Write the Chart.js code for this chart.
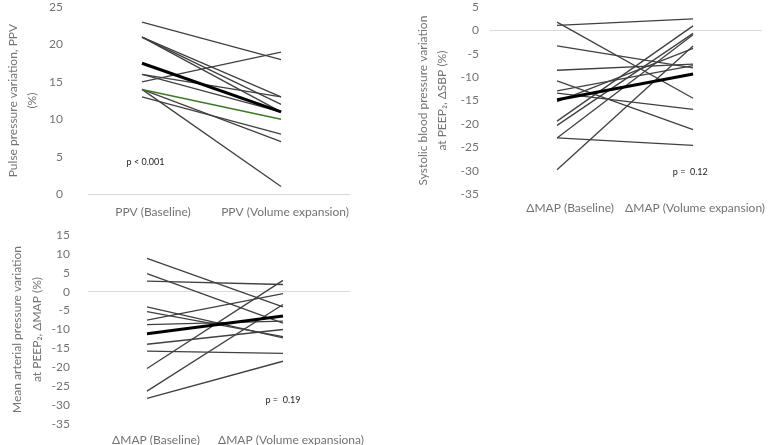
<!DOCTYPE html>
<html>
<head>
<meta charset="utf-8">
<script src="https://cdn.jsdelivr.net/npm/chart.js@4.4.0/dist/chart.umd.min.js"></script>
<style>
    body { margin: 0; background: #fff; width: 771px; height: 445px; position: relative; overflow: hidden; }
    canvas { position: absolute; }
</style>
</head>
<body>
<canvas id="ppvChart" width="385" height="225" style="left:0;top:0"></canvas>
<canvas id="sbpChart" width="376" height="225" style="left:395px;top:0"></canvas>
<canvas id="mapChart" width="385" height="220" style="left:0;top:225px"></canvas>
<script>
// PPV panel
const ppvCategories = ["PPV (Baseline)", "PPV (Volume expansion)"];
const ppvBaseline = [23, 21, 21, 21, 16, 16, 15, 14, 14, 13];
const ppvExpansion = [18, 13, 12, 11, 13, 11, 19, 1, 7, 8];
const ppvMean = [17.5, 11];
const ppvGreen = [14, 10];
const ppvTicks = [0, 25];

// SBP panel
const sbpCategories = ["ΔMAP (Baseline)", "ΔMAP (Volume expansion)"];
const sbpBaseline = [1.8, 1.1, -3.3, -8.5, -10.8, -12.9, -13.4, -15.2, -19.4, -20.3, -23, -23, -29.8];
const sbpExpansion = [-14.5, 2.5, -8.0, -7.2, -21.2, -7.5, -16.9, -3.8, 1.0, -0.6, -24.6, -0.9, -3.3];
const sbpMean = [-14.8, -9.3];
const sbpTicks = [-35, 5];

// MAP panel
const mapCategories = ["ΔMAP (Baseline)", "ΔMAP (Volume expansiona)"];
const mapBaseline = [8.8, 4.8, 2.8, -4.0, -5.3, -7.5, -8.7, -13.9, -15.7, -20.3, -26.3, -28.2];
const mapExpansion = [-4.0, -8.3, 1.9, -12.2, -11.9, -0.5, -7.8, -10.0, -16.3, 3.0, -3.4, -18.4];
const mapMean = [-11.1, -6.4];
const mapTicks = [-35, 15];

const FONT = 'Lato, "Open Sans", sans-serif';
const textGray = "#737373";

const pValuePlugin = {
    id: "pValue",
    afterDatasetsDraw(chart, args, opts) {
        if (!opts.text) return;
        const ctx = chart.ctx;
        const x = chart.scales.x.getPixelForValue(opts.x);
        const y = chart.scales.y.getPixelForValue(opts.y);
        ctx.save();
        ctx.font = "9px " + FONT;
        ctx.fillStyle = "#222";
        ctx.textAlign = "center";
        ctx.textBaseline = "middle";
        ctx.fillText(opts.text, x, y);
        ctx.restore();
    },
};

function pair(a, b) {
    return [{ x: 0, y: a }, { x: 1, y: b }];
}

function buildDatasets(baseline, expansion, mean, green) {
    const sets = [{ data: pair(mean[0], mean[1]), borderColor: "#000", borderWidth: 3 }];
    if (green) {
        sets.push({ data: pair(green[0], green[1]), borderColor: "#3d7a28", borderWidth: 1.5 });
    }
    baseline.forEach((v, i) => {
        sets.push({ data: pair(v, expansion[i]), borderColor: "#404040", borderWidth: 1.3 });
    });
    return sets;
}

function makeChart(canvasId, s) {
    return new Chart(document.getElementById(canvasId), {
        type: "line",
        data: { datasets: s.datasets },
        plugins: [pValuePlugin],
        options: {
            responsive: false,
            animation: false,
            devicePixelRatio: 1,
            layout: { autoPadding: false, padding: s.padding },
            elements: { point: { radius: 0 }, line: { tension: 0 } },
            plugins: {
                legend: { display: false },
                tooltip: { enabled: false },
                pValue: s.pValue,
            },
            scales: {
                x: {
                    type: "linear",
                    min: s.xMin,
                    max: s.xMax,
                    border: { display: false },
                    grid: { display: false },
                    afterBuildTicks: (scale) => {
                        scale.ticks = s.labelPos.map((v) => ({ value: v }));
                    },
                    afterFit: (scale) => {
                        scale.height = s.xHeight;
                    },
                    ticks: {
                        autoSkip: false,
                        maxRotation: 0,
                        padding: s.xPad,
                        color: textGray,
                        font: { family: FONT, size: 12 },
                        callback: (value, index) => s.categories[index],
                    },
                },
                y: {
                    min: s.yTicks[0],
                    max: s.yTicks[1],
                    border: { display: false },
                    grid: {
                        drawTicks: true,
                        tickLength: s.yGap,
                        tickColor: "rgba(0,0,0,0)",
                        color: (c) => (c.tick && c.tick.value === 0 ? "#d9d9d9" : "rgba(0,0,0,0)"),
                    },
                    afterFit: (scale) => {
                        scale.width = s.yWidth;
                    },
                    ticks: {
                        stepSize: 5,
                        padding: 0,
                        color: textGray,
                        font: { family: FONT, size: 12 },
                    },
                    title: {
                        display: true,
                        text: s.title,
                        color: textGray,
                        font: { family: FONT, size: 12, lineHeight: s.titleLH },
                        padding: { top: s.titlePad, bottom: 0 },
                    },
                },
            },
        },
    });
}

makeChart("ppvChart", {
    datasets: buildDatasets(ppvBaseline, ppvExpansion, ppvMean, ppvGreen),
    categories: ppvCategories,
    yTicks: ppvTicks,
    padding: { left: 0, right: 35, top: 7, bottom: 0 },
    yWidth: 88, xHeight: 31,
    xMin: -0.3885, xMax: 1.496, labelPos: [0.079, 1.029],
    xPad: 3, yGap: 25,
    title: ["Pulse pressure variation, PPV", "(%)"],
    titleLH: 1.583, titlePad: 3.5,
    pValue: { text: "p < 0.001", x: 0.025, y: 4.3 },
});

makeChart("sbpChart", {
    datasets: buildDatasets(sbpBaseline, sbpExpansion, sbpMean, null),
    categories: sbpCategories,
    yTicks: sbpTicks,
    padding: { left: 0, right: 9, top: 7, bottom: 0 },
    yWidth: 95, xHeight: 31,
    xMin: -0.493, xMax: 1.507, labelPos: [0.096, 1.015],
    xPad: -1, yGap: 11,
    title: ["Systolic blood pressure variation", "at PEEP₂, ΔSBP (%)"],
    titleLH: 1.583, titlePad: 18.5,
    pValue: { text: "p =  0.12", x: 0.98, y: -30.3 },
});

makeChart("mapChart", {
    datasets: buildDatasets(mapBaseline, mapExpansion, mapMean, null),
    categories: mapCategories,
    yTicks: mapTicks,
    padding: { left: 0, right: 35, top: 10, bottom: 0 },
    yWidth: 88, xHeight: 21,
    xMin: -0.434, xMax: 1.493, labelPos: [0.066, 1.059],
    xPad: 1, yGap: 18,
    title: ["Mean arterial pressure variation", "at PEEP₂, ΔMAP (%)"],
    titleLH: 1.667, titlePad: 7,
    pValue: { text: "p =  0.19", x: 1.0, y: -28.8 },
});
</script>
</body>
</html>
